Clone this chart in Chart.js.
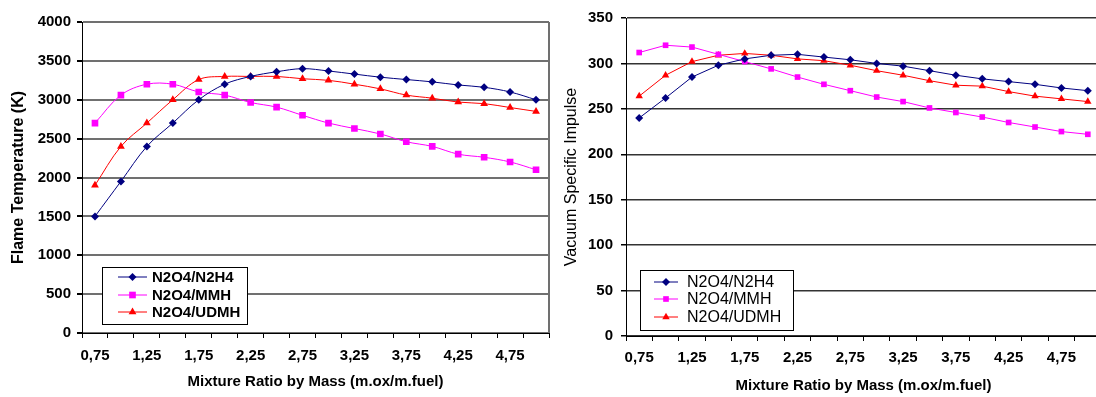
<!DOCTYPE html>
<html>
<head>
<meta charset="utf-8">
<script src="https://cdn.jsdelivr.net/npm/chart.js@4/dist/chart.umd.min.js"></script>
<style>
  html, body { margin: 0; padding: 0; background: #fff; overflow: hidden; }
  body { width: 1096px; height: 397px; position: relative; }
  .box { position: absolute; top: 0; height: 397px; }
  #leftBox { left: 0; width: 555px; }
  #rightBox { left: 548px; width: 560px; }
</style>
</head>
<body>
<div class="box" id="leftBox"><canvas id="tempChart"></canvas></div>
<div class="box" id="rightBox"><canvas id="ispChart"></canvas></div>
<script>
// mixture ratio (oxidizer / fuel) categories
const ratios = ['0,75', '1,00', '1,25', '1,50', '1,75', '2,00', '2,25', '2,50', '2,75',
                '3,00', '3,25', '3,50', '3,75', '4,00', '4,25', '4,50', '4,75', '5,00'];

// flame temperature (K)
const tempN2H4 = [1500, 1950, 2400, 2700, 3000, 3200, 3300, 3360, 3400,
                  3370, 3330, 3290, 3260, 3230, 3190, 3160, 3100, 3000];
const tempMMH  = [2700, 3060, 3200, 3200, 3100, 3060, 2965, 2905, 2800,
                  2700, 2630, 2560, 2460, 2400, 2300, 2260, 2200, 2100];
const tempUDMH = [1900, 2400, 2700, 3000, 3260, 3300, 3300, 3300, 3270,
                  3250, 3200, 3140, 3060, 3020, 2970, 2950, 2900, 2850];

// vacuum specific impulse (s)
const ispN2H4 = [240, 262, 285, 298, 305, 309, 310, 307, 304,
                 300, 297, 292, 287, 283, 280, 277, 273, 270];
const ispMMH  = [312, 320, 318, 310, 302, 294, 285, 277, 270,
                 263, 258, 251, 246, 241, 235, 230, 225, 222];
const ispUDMH = [264, 287, 302, 309, 311, 309, 305, 303, 298,
                 292, 287, 281, 276, 275, 269, 264, 261, 258];

const seriesNames = ['N2O4/N2H4', 'N2O4/MMH', 'N2O4/UDMH'];
const FONT = "Arial, 'Liberation Sans', sans-serif";

function drawMarker(ctx, style, x, y, r, color) {
    ctx.save();
    ctx.fillStyle = color;
    ctx.beginPath();
    if (style === 'rectRot') {
        ctx.moveTo(x, y - r); ctx.lineTo(x + r, y); ctx.lineTo(x, y + r); ctx.lineTo(x - r, y);
    } else if (style === 'rect') {
        const s = r * Math.SQRT1_2;
        ctx.rect(x - s, y - s, 2 * s, 2 * s);
    } else {
        const h = r * 1.5, w = r * Math.sqrt(3) / 2;
        ctx.moveTo(x, y - r); ctx.lineTo(x + w, y + h - r); ctx.lineTo(x - w, y + h - r);
    }
    ctx.closePath();
    ctx.fill();
    ctx.restore();
}

// legend box inside the plot + right frame line
const boxLegend = {
    id: 'boxLegend',
    afterDraw(chart, args, opts) {
        const ctx = chart.ctx;
        const a = chart.chartArea;
        ctx.save();
        ctx.strokeStyle = opts.frameColor;
        ctx.lineWidth = opts.frameWidth;
        ctx.beginPath();
        ctx.moveTo(a.right, a.top);
        ctx.lineTo(a.right, a.bottom);
        ctx.stroke();

        const x = opts.x - chart.canvas.parentNode.offsetLeft;
        ctx.fillStyle = '#fff';
        ctx.fillRect(x, opts.y, opts.w, opts.h);
        ctx.strokeStyle = '#000';
        ctx.lineWidth = 1;
        ctx.strokeRect(x + 0.5, opts.y + 0.5, opts.w, opts.h);
        ctx.font = opts.font;
        ctx.textBaseline = 'middle';
        chart.data.datasets.forEach((ds, i) => {
            const ry = opts.y + opts.rows[i];
            ctx.strokeStyle = ds.borderColor;
            ctx.lineWidth = 1;
            ctx.beginPath();
            ctx.moveTo(x + opts.lineFrom, ry);
            ctx.lineTo(x + opts.lineTo, ry);
            ctx.stroke();
            drawMarker(ctx, ds.pointStyle, x + (opts.lineFrom + opts.lineTo) / 2, ry, ds.pointRadius, ds.borderColor);
            ctx.fillStyle = '#000';
            ctx.fillText(ds.label, x + opts.textX, ry + 1);
        });
        ctx.restore();
    }
};

function makeDatasets(values, tension, sizes) {
    const colors = ['#000080', '#ff00ff', '#ff0000'];
    const styles = ['rectRot', 'rect', 'triangle'];
    return values.map((v, i) => ({
        label: seriesNames[i],
        data: v,
        borderColor: colors[i],
        backgroundColor: colors[i],
        borderWidth: 1,
        pointStyle: styles[i],
        pointRadius: sizes[i],
        pointBorderWidth: 0,
        tension: tension
    }));
}

function makeOptions(cfg) {
    return {
        responsive: true,
        maintainAspectRatio: false,
        animation: false,
        layout: { padding: { top: cfg.top, right: cfg.right, left: 0, bottom: 0 } },
        plugins: {
            legend: { display: false },
            tooltip: { enabled: false },
            boxLegend: cfg.legend
        },
        scales: {
            x: {
                type: 'category',
                offset: true,
                grid: { offset: true, drawOnChartArea: false, tickLength: 5, tickColor: '#000' },
                border: { color: '#000', width: 1 },
                ticks: {
                    autoSkip: false, maxRotation: 0, padding: cfg.xPad, color: '#000',
                    font: { family: FONT, size: 15, weight: 'bold' },
                    callback: (val, i) => i % 2 === 0 ? ratios[i] : ''
                },
                title: {
                    display: true, text: 'Mixture Ratio by Mass (m.ox/m.fuel)', color: '#000',
                    font: { family: FONT, size: 15, weight: 'bold' },
                    padding: { top: 0, bottom: cfg.xTitlePad }
                },
                afterFit: s => { s.height = cfg.xHeight; }
            },
            y: {
                min: cfg.yMin, max: cfg.yMax,
                grid: { color: cfg.gridColor, lineWidth: cfg.gridWidth, tickLength: 5, tickColor: '#000' },
                border: { color: '#000', width: 1 },
                ticks: {
                    stepSize: cfg.yStep, padding: cfg.yPad, color: '#000',
                    font: { family: FONT, size: 15, weight: 'bold' },
                    callback: v => String(v)
                },
                title: {
                    display: true, text: cfg.yTitle, color: '#000',
                    font: { family: FONT, size: 16, weight: cfg.yTitleWeight },
                    padding: { top: cfg.yTitlePad, bottom: 0 }
                },
                afterFit: s => { s.width = cfg.yWidth; }
            }
        }
    };
}

new Chart(document.getElementById('tempChart'), {
    type: 'line',
    data: { labels: ratios, datasets: makeDatasets([tempN2H4, tempMMH, tempUDMH], 0.35, [4, 4.7, 4.5]) },
    options: makeOptions({
        top: 22, right: 6, xHeight: 64, yWidth: 82, xPad: 9, yPad: 6,
        xTitlePad: 6, yTitlePad: 9, yMin: 0, yMax: 4000, yStep: 500,
        gridColor: '#707070', gridWidth: 2, yTitle: 'Flame Temperature (K)', yTitleWeight: 'bold',
        legend: {
            x: 102, y: 267, w: 145, h: 57, rows: [10, 28, 45], lineFrom: 16, lineTo: 45, textX: 50,
            font: 'bold 15px ' + FONT, frameColor: '#707070', frameWidth: 2
        }
    }),
    plugins: [boxLegend]
});

new Chart(document.getElementById('ispChart'), {
    type: 'line',
    data: { labels: ratios, datasets: makeDatasets([ispN2H4, ispMMH, ispUDMH], 0, [4, 4, 4.3]) },
    options: makeOptions({
        top: 18, right: 7, xHeight: 61, yWidth: 78, xPad: 8, yPad: 8,
        xTitlePad: 2, yTitlePad: 14, yMin: 0, yMax: 350, yStep: 50,
        gridColor: '#333', gridWidth: 1.5, yTitle: 'Vacuum Specific Impulse', yTitleWeight: 'normal',
        legend: {
            x: 640, y: 270, w: 153, h: 60, rows: [12, 29, 47], lineFrom: 14, lineTo: 38, textX: 47,
            font: '16px ' + FONT, frameColor: '#333', frameWidth: 1.5
        }
    }),
    plugins: [boxLegend]
});
</script>
</body>
</html>
